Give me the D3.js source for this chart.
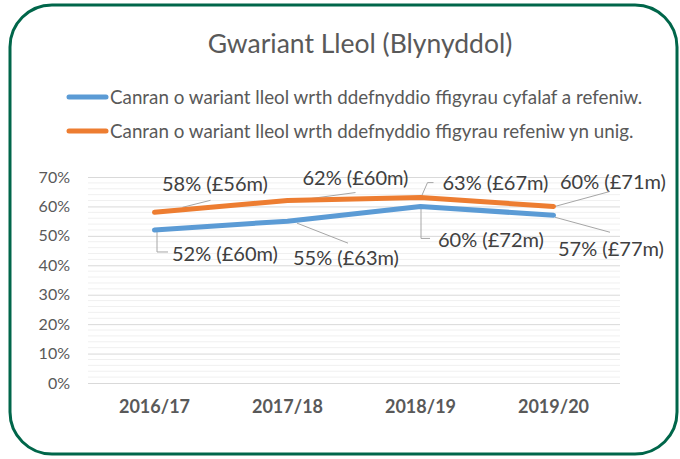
<!DOCTYPE html>
<html>
<head>
<meta charset="utf-8">
<script src="https://cdn.jsdelivr.net/npm/d3@7"></script>
<style>
  body { margin: 0; background: #fff; }
  text { font-family: Lato, 'Open Sans', sans-serif; }
</style>
</head>
<body>
<div id="chart"></div>
<script>
const years = ['2016/17', '2017/18', '2018/19', '2019/20']
const seriesNames = [
    'Canran o wariant lleol wrth ddefnyddio ffigyrau cyfalaf a refeniw.',
    'Canran o wariant lleol wrth ddefnyddio ffigyrau refeniw yn unig.'
]
const capitalRevenue = [52, 55, 60, 57]
const revenueOnly = [58, 62, 63, 60]
const capitalRevenueLabels = ['52% (£60m)', '55% (£63m)', '60% (£72m)', '57% (£77m)']
const revenueOnlyLabels = ['58% (£56m)', '62% (£60m)', '63% (£67m)', '60% (£71m)']
const yTicks = [0, 10, 20, 30, 40, 50, 60, 70]

const width = 680, height = 459
const plot = { left: 88, right: 620, top: 177, bottom: 383 }

// label placement relative to the point: text start (dx, dy) and leader shape
const blueLabelPos = [
    { dx: 17.5, dy: 24, leader: [[2.5, 2], [2.5, 22], [13.5, 22]] },
    { dx: 5.5, dy: 37, leader: [[9.5, 2], [60.5, 22]] },
    { dx: 17.5, dy: 34, leader: [[0.5, 2], [0.5, 32], [9.5, 32]] },
    { dx: 4.5, dy: 34, leader: [[1.5, 2], [56.5, 17]] }
]
const orangeLabelPos = [
    { dx: 7.5, dy: -28, leader: [[28, -5], [56, -12]] },
    { dx: 15, dy: -23, leader: [[1, 1], [68, -8]] },
    { dx: 22, dy: -15, leader: [[0, 1], [7, -15], [13, -15]] },
    { dx: 6.5, dy: -24, leader: [[1.5, 0], [56.5, -15]] }
]

const series = [
    { name: seriesNames[0], values: capitalRevenue, labels: capitalRevenueLabels, color: '#5B9BD5', pos: blueLabelPos },
    { name: seriesNames[1], values: revenueOnly, labels: revenueOnlyLabels, color: '#ED7D31', pos: orangeLabelPos }
]

const xScale = d3.scaleBand().domain(years).range([plot.left, plot.right])
const yScale = d3.scaleLinear().domain([0, 70]).range([plot.bottom, plot.top])
const cx = d => xScale(d) + xScale.bandwidth() / 2

const svg = d3.select('#chart').append('svg')
              .attr('width', width)
              .attr('height', height)

// green rounded frame
svg.append('rect')
   .attr('x', 10).attr('y', 5)
   .attr('width', 667).attr('height', 449)
   .attr('rx', 42).attr('ry', 42)
   .style('fill', '#fff')
   .style('stroke', '#00664A')
   .style('stroke-width', 3)

// title
svg.append('text')
   .text('Gwariant Lleol (Blynyddol)')
   .attr('x', 360).attr('y', 53)
   .attr('text-anchor', 'middle')
   .style('font-size', '26.5px')
   .style('fill', '#595959')

// legend
const legend = svg.append('g')
series.forEach((s, i) => {
    const y = 97 + i * 34
    legend.append('line')
          .attr('x1', 69).attr('x2', 106)
          .attr('y1', y).attr('y2', y)
          .style('stroke', s.color)
          .style('stroke-width', 5)
          .style('stroke-linecap', 'round')
    legend.append('text')
          .text(s.name)
          .attr('x', 110).attr('y', y)
          .attr('dy', '0.35em')
          .style('font-size', '18.8px')
          .style('fill', '#595959')
})

// minor grid lines every 2%
svg.append('g')
   .selectAll('line')
   .data(d3.range(0, 71, 2).filter(v => v % 10 !== 0))
   .join('line')
   .attr('x1', plot.left).attr('x2', plot.right)
   .attr('y1', d => yScale(d)).attr('y2', d => yScale(d))
   .style('stroke', '#f0f0f0')
   .style('stroke-width', 1)

// major grid lines + y axis labels
const yAxis = svg.append('g')
                 .attr('transform', `translate(${plot.left}, 0)`)
                 .call(d3.axisLeft(yScale).tickValues(yTicks).tickSize(-(plot.right - plot.left)).tickPadding(18).tickFormat(d => d + '%'))
yAxis.select('.domain').remove()
yAxis.selectAll('.tick line').style('stroke', '#d9d9d9')
yAxis.selectAll('.tick text')
     .style('font-size', '16px')
     .style('fill', '#595959')
     .style('font-family', 'Lato, sans-serif')

// x axis labels
const xAxis = svg.append('g')
                 .attr('transform', `translate(0, ${plot.bottom})`)
                 .call(d3.axisBottom(xScale).tickSize(0).tickPadding(17))
xAxis.select('.domain').remove()
xAxis.selectAll('.tick text')
     .style('font-size', '18px')
     .style('font-weight', '700')
     .style('fill', '#595959')
     .style('font-family', 'Lato, sans-serif')

// leader lines
series.forEach(s => {
    svg.append('g')
       .selectAll('path')
       .data(s.values)
       .join('path')
       .attr('d', (d, i) => {
           const px = cx(years[i]), py = yScale(d)
           return d3.line()(s.pos[i].leader.map(p => [px + p[0], py + p[1]]))
       })
       .style('fill', 'none')
       .style('stroke', '#a6a6a6')
       .style('stroke-width', 1)
})

// lines
const line = d3.line()
               .x((d, i) => cx(years[i]))
               .y(d => yScale(d))

series.forEach(s => {
    svg.append('path')
       .datum(s.values)
       .attr('d', line)
       .style('fill', 'none')
       .style('stroke', s.color)
       .style('stroke-width', 5)
       .style('stroke-linecap', 'round')
       .style('stroke-linejoin', 'round')
})

// data labels
series.forEach(s => {
    svg.append('g')
       .selectAll('text')
       .data(s.values)
       .join('text')
       .text((d, i) => s.labels[i])
       .attr('x', (d, i) => cx(years[i]) + s.pos[i].dx)
       .attr('y', (d, i) => yScale(d) + s.pos[i].dy)
       .attr('dy', '0.35em')
       .style('font-size', '20px')
       .style('fill', '#404040')
})
</script>
</body>
</html>
